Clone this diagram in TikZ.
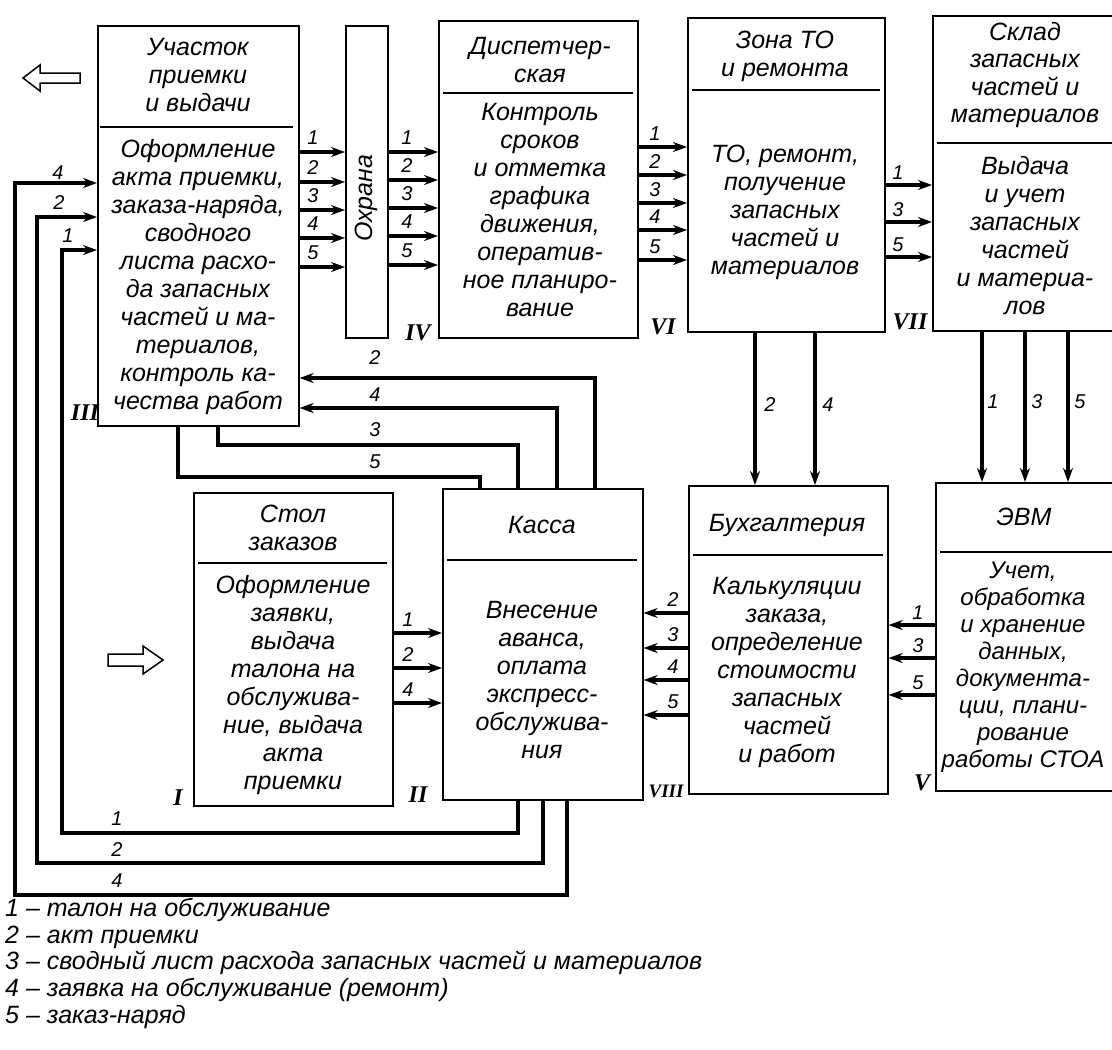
\documentclass[tikz,border=0pt]{standalone}
\usepackage{fontspec}
\setmainfont{Liberation Sans}
\newfontfamily\romfont{Liberation Serif}
\usetikzlibrary{arrows.meta,calc}
\tikzset{
  box/.style={draw, line width=1.6pt, anchor=north west, inner sep=0pt},
  txt/.style={font=\fontsize{25}{28}\selectfont\itshape, align=center, inner sep=0pt},
  num/.style={font=\fontsize{20}{20}\selectfont\itshape, inner sep=0pt},
  rom/.style={font=\fontsize{24}{24}\selectfont\romfont\bfseries\itshape, inner sep=0pt},
  conn/.style={line width=3.8pt},
  arr/.style={conn, -{Stealth[length=14pt,width=10pt]}},
  divider/.style={line width=1.6pt},
  legend/.style={font=\fontsize{25}{27}\selectfont\itshape, anchor=west, inner sep=0pt},
  hollow/.style={line width=1.5pt, line join=miter},
}
\begin{document}
\begin{tikzpicture}[x=1pt,y=-1pt]
\useasboundingbox (0,0) rectangle (1112,1050);
\clip (0,0) rectangle (1112,1050);

% ---------- boxes ----------
\node[box, minimum width=201pt, minimum height=400pt] (III) at (97,25) {};
\node[box, minimum width=42pt, minimum height=312pt] (IV) at (345,25) {};
\node[box, minimum width=199pt, minimum height=317pt] (VI) at (438,20) {};
\node[box, minimum width=197pt, minimum height=314pt] (zona) at (687,17) {};
\node[box, minimum width=193pt, minimum height=315pt] (sklad) at (932,15) {};
\node[box, minimum width=199pt, minimum height=313pt] (stol) at (193,492) {};
\node[box, minimum width=200pt, minimum height=311pt] (kassa) at (442,488) {};
\node[box, minimum width=199pt, minimum height=308pt] (buh) at (688,485) {};
\node[box, minimum width=190pt, minimum height=308pt] (evm) at (935,482) {};

% dividers
\draw[divider] (100,127) -- (293,127);
\draw[divider] (443,93) -- (633,93);
\draw[divider] (692,90) -- (880,90);
\draw[divider] (937,143) -- (1112,143);
\draw[divider] (198,563) -- (387,563);
\draw[divider] (447,560) -- (637,560);
\draw[divider] (693,555) -- (883,555);
\draw[divider] (940,552) -- (1112,552);

% ---------- texts ----------
\node[txt] (tIIIh) at (198,75) {Участок\\приемки\\и выдачи};
\node[txt] (tIIIb) at (198,277) {Оформление\\акта приемки,\\заказа-наряда,\\сводного\\листа расхо-\\да запасных\\частей и ма-\\териалов,\\контроль ка-\\чества работ};
\node[txt, rotate=90] (tIV) at (366,198) {Охрана};
\node[txt] (tVIh) at (540,60) {Диспетчер-\\ская};
\node[txt] (tVIb) at (540,210) {Контроль\\сроков\\и отметка\\графика\\движения,\\оператив-\\ное планиро-\\вание};
\node[txt] (tzh) at (785,56) {Зона ТО\\и ремонта};
\node[txt] (tzb) at (785,212) {ТО, ремонт,\\получение\\запасных\\частей и\\материалов};
\node[txt, font=\fontsize{25}{27.5}\selectfont\itshape] (tsh) at (1025,75) {Склад\\запасных\\частей и\\материалов};
\node[txt] (tsb) at (1025,236) {Выдача\\и учет\\запасных\\частей\\и материа-\\лов};
\node[txt] (tstolh) at (293,528) {Стол\\заказов};
\node[txt] (tstolb) at (293,685) {Оформление\\заявки,\\выдача\\талона на\\обслужива-\\ние, выдача\\акта\\приемки};
\node[txt] (tkh) at (542,525) {Касса};
\node[txt] (tkb) at (542,680) {Внесение\\аванса,\\оплата\\экспресс-\\обслужива-\\ния};
\node[txt] (tbh) at (787,525) {Бухгалтерия};
\node[txt] (tbb) at (787,672) {Калькуляции\\заказа,\\определение\\стоимости\\запасных\\частей\\и работ};
\node[txt] (teh) at (1024,517) {ЭВМ};
\node[txt, font=\fontsize{24}{27}\selectfont\itshape] (teb) at (1023,667) {Учет,\\обработка\\и хранение\\данных,\\документа-\\ции, плани-\\рование\\работы СТОА};

% roman numerals
\node[rom] (rIII) at (85,413) {III};
\node[rom] (rIV) at (418,333) {IV};
\node[rom] (rVI) at (663,327) {VI};
\node[rom] (rVII) at (910,322) {VII};
\node[rom] (rI) at (178,798) {I};
\node[rom] (rII) at (418,795) {II};
\node[rom, font=\fontsize{19}{19}\selectfont\romfont\bfseries\itshape] (rVIII) at (666,791) {VIII};
\node[rom] (rV) at (922,783) {V};

% ---------- connectors ----------
\foreach \y/\n in {152/1,182/2,210/3,238/4,267/5}{
  \draw[arr] (III.east |- 0,\y) -- (IV.west |- 0,\y);
  \node[num] (a\n) at (313,\y-14) {\n};
}
\foreach \y/\n in {152/1,180/2,208/3,236/4,265/5}{
  \draw[arr] (IV.east |- 0,\y) -- (VI.west |- 0,\y);
  \node[num] (b\n) at (407,\y-14) {\n};
}
\foreach \y/\n in {147/1,175/2,203/3,230/4,260/5}{
  \draw[arr] (VI.east |- 0,\y) -- (zona.west |- 0,\y);
  \node[num] (c\n) at (655,\y-13) {\n};
}
\foreach \y/\n in {185/1,222/3,257/5}{
  \draw[arr] (zona.east |- 0,\y) -- (sklad.west |- 0,\y);
  \node[num] (d\n) at (898,\y-12) {\n};
}
\foreach \x/\n/\lx in {755/2/770,815/4/828}{
  \draw[arr] (zona.south -| \x,0) -- (buh.north -| \x,0);
  \node[num] (e\n) at (\lx,405) {\n};
}
\foreach \x/\n/\lx in {982/1/993,1025/3/1037,1068/5/1080}{
  \draw[arr] (sklad.south -| \x,0) -- (evm.north -| \x,0);
  \node[num] (f\n) at (\lx,402) {\n};
}
\foreach \y/\n in {625/1,658/3,695/5}{
  \draw[arr] (evm.west |- 0,\y) -- (buh.east |- 0,\y);
  \node[num] (g\n) at (918,\y-12) {\n};
}
\foreach \y/\n in {613/2,648/3,680/4,715/5}{
  \draw[arr] (buh.west |- 0,\y) -- (kassa.east |- 0,\y);
  \node[num] (h\n) at (673,\y-13) {\n};
}
\foreach \y/\n in {633/1,668/2,703/4}{
  \draw[arr] (stol.east |- 0,\y) -- (kassa.west |- 0,\y);
  \node[num] (k\n) at (408,\y-13) {\n};
}

% loops between Касса and участок приемки
\draw[arr] (kassa.north -| 595,0) |- (III.east |- 0,378);
\draw[arr] (kassa.north -| 557,0) |- (III.east |- 0,408);
\draw[conn] (III.south -| 218,0) -- (218,445) -- (518,445) -- (kassa.north -| 518,0);
\draw[conn] (III.south -| 178,0) -- (178,477) -- (480,477) -- (kassa.north -| 480,0);
\node[num] (m2) at (375,358) {2};
\node[num] (m4) at (375,395) {4};
\node[num] (m3) at (375,430) {3};
\node[num] (m5) at (375,462) {5};

\draw[arr] (kassa.south -| 518,0) -- (518,833) -- (62,833) -- (62,250) -- (III.west |- 0,250);
\draw[arr] (kassa.south -| 543,0) -- (543,863) -- (37,863) -- (37,217) -- (III.west |- 0,217);
\draw[arr] (kassa.south -| 567,0) -- (567,895) -- (15,895) -- (15,183) -- (III.west |- 0,183);
\node[num] (n1) at (117,819) {1};
\node[num] (n2) at (117,850) {2};
\node[num] (n4) at (117,881) {4};
\node[num] (p4) at (58,173) {4};
\node[num] (p2) at (59,203) {2};
\node[num] (p1) at (68,236) {1};

% hollow arrows
\draw[hollow] (80,73) -- (40,73) -- (40,65) -- (23,78) -- (40,91) -- (40,83) -- (80,83) -- cycle;
\draw[hollow] (108,654) -- (143,654) -- (143,646) -- (163,660) -- (143,674) -- (143,666) -- (108,666) -- cycle;

% legend
\node[legend] (L1) at (5,910) {1 – талон на обслуживание};
\node[legend] (L2) at (5,937) {2 – акт приемки};
\node[legend] (L3) at (5,963) {3 – сводный лист расхода запасных частей и материалов};
\node[legend] (L4) at (5,990) {4 – заявка на обслуживание (ремонт)};
\node[legend] (L5) at (5,1017) {5 – заказ-наряд};
\end{tikzpicture}
\end{document}
